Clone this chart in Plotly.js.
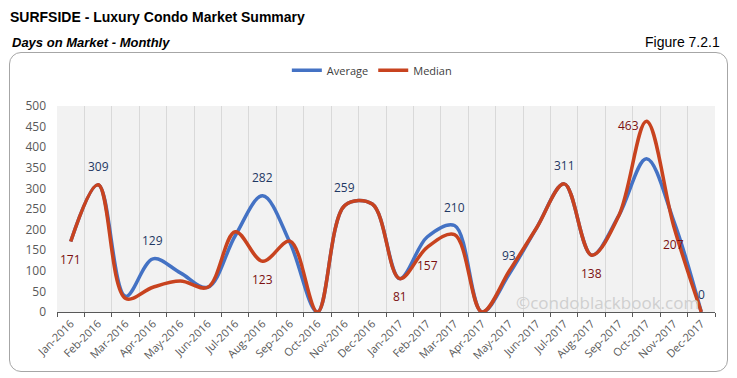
<!DOCTYPE html>
<html>
<head>
<meta charset="utf-8">
<script src="https://cdn.plot.ly/plotly-3.0.1.min.js"></script>
<style>
html,body{margin:0;padding:0;background:#fff;}
#wrap{position:relative;width:737px;height:378px;}
#frame{position:absolute;left:9px;top:52px;width:719px;height:320px;border:1px solid #a6a6a6;border-radius:12px;box-sizing:border-box;}
#chart{position:absolute;left:0;top:0;width:737px;height:378px;}
</style>
</head>
<body>
<div id="wrap"><div id="frame"></div><div id="chart"></div></div>
<script>
// ---- data ----
const months = ["Jan-2016","Feb-2016","Mar-2016","Apr-2016","May-2016","Jun-2016","Jul-2016","Aug-2016","Sep-2016","Oct-2016","Nov-2016","Dec-2016",
                "Jan-2017","Feb-2017","Mar-2017","Apr-2017","May-2017","Jun-2017","Jul-2017","Aug-2017","Sep-2017","Oct-2017","Nov-2017","Dec-2017"];
const average = [171,309,38,129,95,60,185,282,168,0,259,262,81,182,210,0,93,205,311,138,235,372,220,0];
const median  = [171,309,33,60,75,60,195,123,172,0,259,262,81,157,188,0,100,205,311,138,235,463,207,0];
const yTicks  = [0,50,100,150,200,250,300,350,400,450,500];

// which points carry a data label, and where (style config)
const avgLabelAt = {1:"top",3:"top",7:"top",10:"top",14:"top",16:"top",18:"top",23:"top"};
const medLabelAt = {0:"bottom",7:"bottom",12:"bottom",13:"bottom",19:"bottom",21:"left",22:"bottom"};

// ---- geometry helpers (plot area in px) ----
const PL = 57.3, PR = 715, PT = 105.7, PB = 311.7, W = 737, H = 378;
const px2x = p => (p - PL) / (PR - PL);
const px2y = p => (PB - p) / (PB - PT);

const BLUE = "#4472C4", RED = "#C8431F";
const FONT = "Open Sans, Liberation Sans, sans-serif";
const NARROW = "Liberation Sans Narrow, Arial Narrow, Liberation Sans, sans-serif";

function labelAnn(series, where, color) {
  const out = [];
  Object.keys(where).forEach(k => {
    const i = +k, pos = where[k];
    const a = {x: months[i], y: series[i], xref: "x", yref: "y", text: String(series[i]),
      showarrow: false, font: {family: FONT, size: 12, color: color}, xanchor: "center", yanchor: "middle"};
    if (pos === "top") a.yshift = 18;
    else if (pos === "bottom") a.yshift = -18;
    else if (pos === "left") { a.xanchor = "right"; a.xshift = -5; a.yshift = -4; }
    out.push(a);
  });
  return out;
}

const traces = [
  {x: months, y: average, name: "Average", type: "scatter", mode: "lines",
   line: {color: BLUE, width: 3.5, shape: "spline", smoothing: 1}},
  {x: months, y: median, name: "Median", type: "scatter", mode: "lines",
   line: {color: RED, width: 3.5, shape: "spline", smoothing: 1}}
];

const annotations = [
  {text: "<b><i>Days on Market - Monthly</i></b>", xref: "paper", yref: "paper", x: px2x(10), y: px2y(42),
   xanchor: "left", yanchor: "middle", showarrow: false,
   font: {family: NARROW, size: 13, color: "#000"}},
  {text: "Figure 7.2.1", xref: "paper", yref: "paper", x: px2x(722), y: px2y(42),
   xanchor: "right", yanchor: "middle", showarrow: false,
   font: {family: NARROW, size: 14, color: "#000"}},
  {text: "©condoblackbook.com", xref: "paper", yref: "paper", x: px2x(608), y: px2y(302),
   xanchor: "center", yanchor: "middle", showarrow: false,
   font: {family: FONT, size: 17, color: "#cfcfcf"}}
].concat(labelAnn(average, avgLabelAt, "#1F3864"), labelAnn(median, medLabelAt, "#7B1010"));

const layout = {
  width: W, height: H,
  margin: {l: PL, r: W - PR, t: PT, b: H - PB, pad: 0},
  paper_bgcolor: "rgba(0,0,0,0)",
  plot_bgcolor: "#f2f2f2",
  title: {text: "<b>SURFSIDE - Luxury Condo Market Summary</b>", x: 10 / W, xanchor: "left", xref: "container",
          y: 1 - 17 / H, yanchor: "middle", yref: "container",
          font: {family: NARROW, size: 14, color: "#000"}},
  showlegend: true,
  legend: {orientation: "h", x: px2x(372), xanchor: "center", y: px2y(70), yanchor: "middle",
           font: {family: FONT, size: 11, color: "#404040"}, bgcolor: "rgba(0,0,0,0)", traceorder: "normal"},
  xaxis: {type: "category", tickson: "boundaries", showgrid: true, gridcolor: "#d9d9d9", gridwidth: 1,
          ticks: "outside", ticklen: 4, tickcolor: "#595959", showline: true, linecolor: "#595959", linewidth: 1,
          tickangle: -45, tickfont: {family: FONT, size: 11, color: "#595959"}, zeroline: false,
          range: [-0.5, months.length - 0.5], fixedrange: true},
  yaxis: {range: [0, 500], tickvals: yTicks, ticktext: yTicks.map(String), showgrid: false, zeroline: false,
          showline: false, ticks: "", ticklabelstandoff: 10,
          tickfont: {family: FONT, size: 12, color: "#595959"}, fixedrange: true},
  annotations: annotations
};

Plotly.newPlot("chart", traces, layout, {displayModeBar: false, staticPlot: true});
</script>
</body>
</html>
